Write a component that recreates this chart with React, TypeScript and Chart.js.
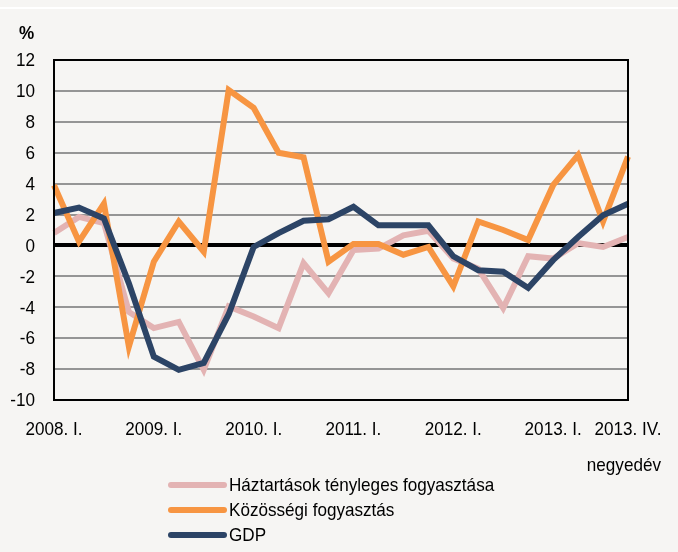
import { useEffect, useRef } from 'react';
import { Chart, registerables } from 'chart.js';

Chart.register(...registerables);

const quarters = [
  '2008. I.', '2008. II.', '2008. III.', '2008. IV.',
  '2009. I.', '2009. II.', '2009. III.', '2009. IV.',
  '2010. I.', '2010. II.', '2010. III.', '2010. IV.',
  '2011. I.', '2011. II.', '2011. III.', '2011. IV.',
  '2012. I.', '2012. II.', '2012. III.', '2012. IV.',
  '2013. I.', '2013. II.', '2013. III.', '2013. IV.',
];

const xTickLabels = ['2008. I.', '2009. I.', '2010. I.', '2011. I.', '2012. I.', '2013. I.', '2013. IV.'];
const xTickIndices = [0, 4, 8, 12, 16, 20, 23];

const householdCons = [0.8, 1.85, 1.45, -4.3, -5.35, -4.95, -8.05, -3.95, -4.6, -5.35, -1.15, -3.1, -0.3, -0.2, 0.65, 0.95, -0.85, -1.5, -4.05, -0.7, -0.85, 0.15, -0.1, 0.55];
const publicCons = [3.9, 0.25, 2.7, -6.55, -1.05, 1.55, -0.4, 10.05, 8.9, 6.0, 5.7, -1.05, 0.1, 0.1, -0.6, -0.1, -2.65, 1.55, 1.0, 0.35, 3.9, 5.85, 1.55, 5.75];
const gdp = [2.1, 2.45, 1.75, -2.45, -7.2, -8.05, -7.6, -4.45, -0.1, 0.8, 1.6, 1.7, 2.5, 1.3, 1.3, 1.3, -0.7, -1.6, -1.7, -2.75, -0.95, 0.55, 1.95, 2.7];

const seriesNames = ['Háztartások tényleges fogyasztása', 'Közösségi fogyasztás', 'GDP'];
const seriesColors = ['#e3b3b3', '#f79542', '#2c4466'];

const yUnit = '%';
const xUnit = 'negyedév';

const FONT = "'Liberation Sans', Arial, sans-serif";
const SX = 0.9;

function drawText(ctx: any, text: string, x: number, y: number, align: string, bold = false) {
  ctx.save();
  ctx.font = `${bold ? 'bold ' : ''}19px ${FONT}`;
  ctx.fillStyle = '#000';
  ctx.textAlign = align;
  ctx.textBaseline = 'middle';
  ctx.translate(x, y);
  ctx.scale(SX, 1);
  ctx.fillText(text, 0, 0);
  ctx.restore();
}

const extrasPlugin = {
  id: 'extras',
  afterDraw(chart: any) {
    const { ctx, chartArea } = chart;
    const { left, right, top, bottom } = chartArea;
    const xs = chart.scales.x;
    const ys = chart.scales.y;
    ctx.save();
    ctx.strokeStyle = '#000';
    ctx.lineWidth = 2;
    ctx.strokeRect(left, top, right - left, bottom - top);
    ctx.restore();

    ys.ticks.forEach((t: any) => {
      drawText(ctx, String(t.value), left - 19, ys.getPixelForValue(t.value) + 1, 'right');
    });

    drawText(ctx, yUnit, left - 35, top - 26, 'left', true);

    xTickLabels.forEach((lab, i) => {
      drawText(ctx, lab, xs.getPixelForValue(xTickIndices[i]), bottom + 30, 'center');
    });

    drawText(ctx, xUnit, right + 33, bottom + 66, 'right');

    const lx = left + 117;
    const ly = bottom + 85;
    chart.data.datasets.forEach((ds: any, i: number) => {
      const y = ly + i * 25;
      ctx.save();
      ctx.strokeStyle = ds.borderColor;
      ctx.lineWidth = 6;
      ctx.lineCap = 'round';
      ctx.beginPath();
      ctx.moveTo(lx, y);
      ctx.lineTo(lx + 53, y);
      ctx.stroke();
      ctx.restore();
      drawText(ctx, ds.label, lx + 58, y + 1, 'left');
    });
  },
};

export default function App() {
  const ref = useRef<HTMLCanvasElement>(null);
  useEffect(() => {
    if (!ref.current) return;
    const datasets = [householdCons, publicCons, gdp].map((d, i) => ({
      label: seriesNames[i],
      data: d,
      borderColor: seriesColors[i],
      backgroundColor: seriesColors[i],
      borderWidth: 6,
      pointRadius: 0,
      tension: 0,
      fill: false,
      order: 2 - i,
      borderJoinStyle: 'miter' as const,
    }));
    const chart = new Chart(ref.current, {
      type: 'line',
      data: { labels: quarters, datasets },
      options: {
        animation: false,
        responsive: false,
        layout: { padding: { left: 0, right: 50, top: 60, bottom: 152 } },
        plugins: { legend: { display: false }, tooltip: { enabled: false }, title: { display: false } },
        scales: {
          x: {
            type: 'category',
            offset: false,
            grid: { display: false, drawTicks: false },
            border: { display: false },
            ticks: { display: false },
            afterFit: (s: any) => { s.height = 0; },
          },
          y: {
            min: -10,
            max: 12,
            ticks: { stepSize: 2, display: false },
            grid: {
              drawTicks: false,
              color: (c: any) => (c.tick && c.tick.value === 0 ? '#000' : '#959595'),
              lineWidth: (c: any) => (c.tick && c.tick.value === 0 ? 4 : 2),
            },
            border: { display: false },
            afterFit: (s: any) => { s.width = 54; },
          },
        },
      },
      plugins: [extrasPlugin],
    });
    return () => chart.destroy();
  }, []);
  return (
    <div style={{ position: 'absolute', left: 0, top: 0, width: 678, height: 552, background: '#f6f5f3' }}>
      <div style={{ position: 'absolute', left: 0, top: 7, width: 678, height: 2, background: '#ffffff' }} />
      <canvas ref={ref} width={678} height={552} style={{ position: 'absolute', left: 0, top: 0 }} />
    </div>
  );
}
